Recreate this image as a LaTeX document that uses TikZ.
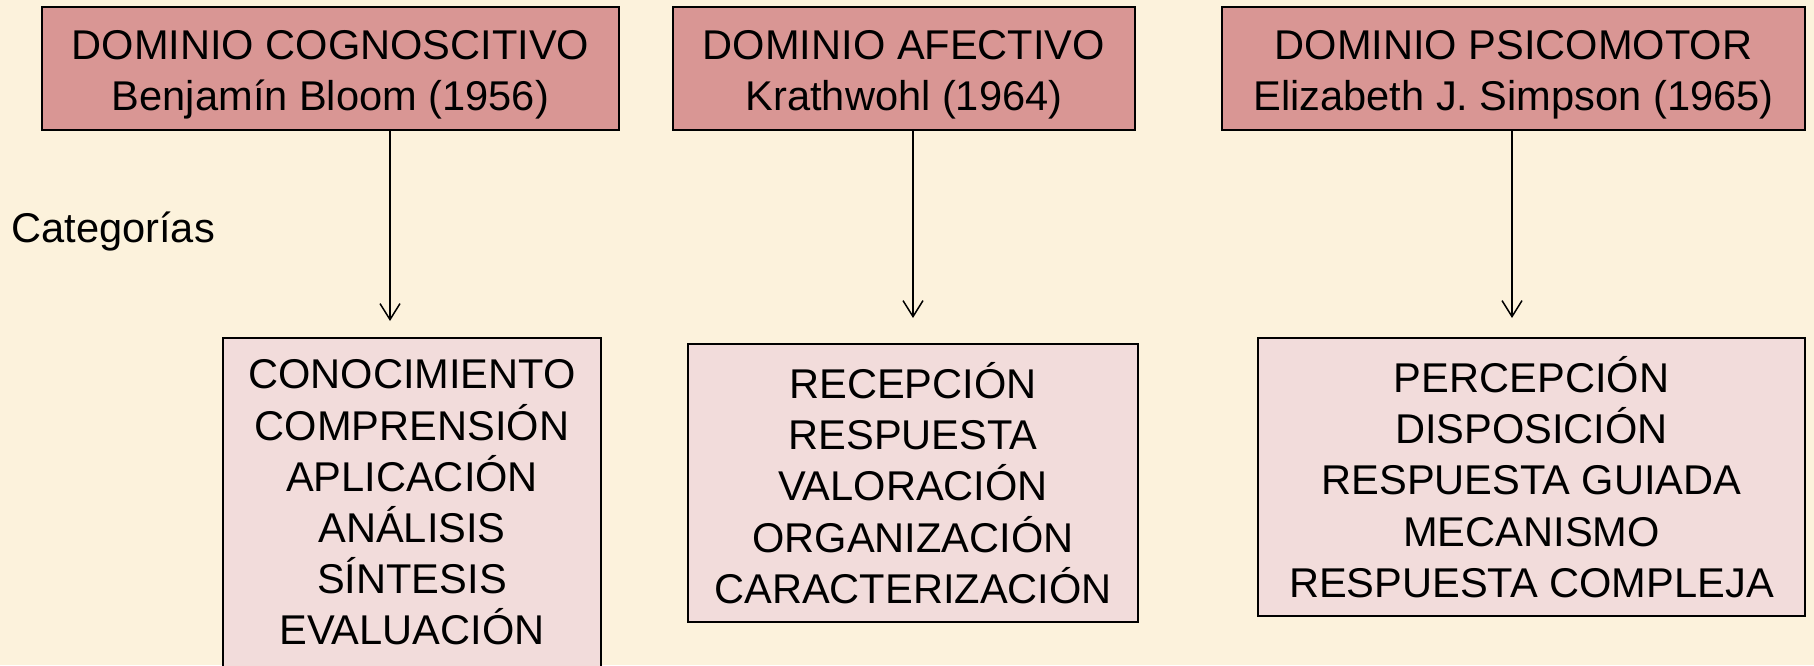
\documentclass[tikz,border=0pt]{standalone}
\usepackage{fontspec}
\setmainfont{Liberation Sans}
\usetikzlibrary{arrows.meta}
\definecolor{bgcream}{HTML}{FCF2DC}
\definecolor{headrose}{HTML}{D99694}
\definecolor{lightrose}{HTML}{F2DCDB}
\tikzset{
  txt/.style={font=\fontsize{20.8pt}{25.6pt}\selectfont, text=black},
  headbox/.style={draw=black, line width=1pt, fill=headrose, inner sep=0pt, minimum height=61.5pt},
  headtext/.style={txt, align=center, inner sep=0pt, yshift=-3.2pt},
  catbox/.style={txt, draw=black, line width=1pt, fill=lightrose, align=center, inner sep=0pt},
  link/.style={draw=black, line width=0.75pt, -{Straight Barb[length=8pt,width=10pt,line width=0.75pt]}}
}
\begin{document}
\begin{tikzpicture}[x=0.5pt,y=-0.5pt]
  \clip (0,0) rectangle (1814,665);
  \fill[bgcream] (0,0) rectangle (1814,665);

  % head boxes
  \node[headbox, minimum width=288.5pt, label={[headtext]center:{DOMINIO COGNOSCITIVO\\Benjamín Bloom (1956)}}] (h1) at (330.5,68.5) {};
  \node[headbox, minimum width=231pt, label={[headtext]center:{DOMINIO AFECTIVO\\Krathwohl (1964)}}] (h2) at (904,68.5) {};
  \node[headbox, minimum width=291.5pt, label={[headtext]center:{DOMINIO PSICOMOTOR\\Elizabeth J. Simpson (1965)}}] (h3) at (1513.5,68.5) {};

  % label
  \node[txt, anchor=base west, inner sep=0pt] (cat) at (11,242) {Categorías};

  % category boxes
  \node[catbox, minimum width=189pt, minimum height=164.5pt] (c1) at (412,502.5)
    {CONOCIMIENTO\\COMPRENSIÓN\\APLICACIÓN\\ANÁLISIS\\SÍNTESIS\\EVALUACIÓN};
  \node[catbox, minimum width=225pt, minimum height=139pt] (c2) at (913,483)
    {RECEPCIÓN\\RESPUESTA\\VALORACIÓN\\ORGANIZACIÓN\\CARACTERIZACIÓN};
  \node[catbox, minimum width=273.5pt, minimum height=139pt] (c3) at (1531.5,477)
    {PERCEPCIÓN\\DISPOSICIÓN\\RESPUESTA GUIADA\\MECANISMO\\RESPUESTA COMPLEJA};

  % arrow tips
  \coordinate (t1) at (390,321);
  \coordinate (t2) at (913,318);
  \coordinate (t3) at (1512,318);

  \draw[link] (h1.south -| t1) -- (t1);
  \draw[link] (h2.south -| t2) -- (t2);
  \draw[link] (h3.south -| t3) -- (t3);
\end{tikzpicture}
\end{document}
